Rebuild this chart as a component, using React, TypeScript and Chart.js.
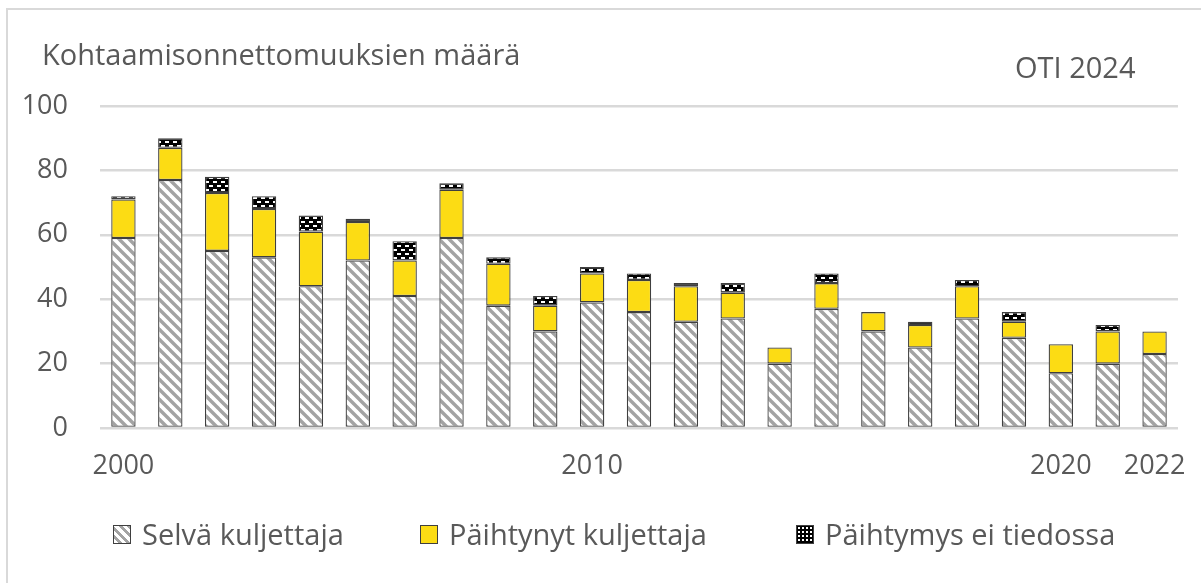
import React, { useEffect, useRef } from 'react';
import { Chart, registerables } from 'chart.js';
Chart.register(...registerables);

const years = ['2000','2001','2002','2003','2004','2005','2006','2007','2008','2009','2010','2011','2012','2013','2014','2015','2016','2017','2018','2019','2020','2021','2022'];
const shownYears = ['2000','2010','2020','2022'];
const selva = [59,77,55,53,44,52,41,59,38,30,39,36,33,34,20,37,30,25,34,28,17,20,23];
const paihtynyt = [12,10,18,15,17,12,11,15,13,8,9,10,11,8,5,8,6,7,10,5,9,10,7];
const eiTiedossa = [1,3,5,4,5,1,6,2,2,3,2,2,1,3,0,3,0,1,2,3,0,2,0];
const seriesNames = ['Selvä kuljettaja', 'Päihtynyt kuljettaja', 'Päihtymys ei tiedossa'];
const yTicks = [0, 20, 40, 60, 80, 100];

const FONT = '"Open Sans", sans-serif';
const TEXT = '#595959';
const YELLOW = '#fcdc14';
const EDGE = '#3f3f3f';

function stripePattern(ctx: CanvasRenderingContext2D) {
  const c = document.createElement('canvas');
  c.width = 10; c.height = 10;
  const g = c.getContext('2d')!;
  g.fillStyle = '#ffffff';
  g.fillRect(0, 0, 10, 10);
  g.strokeStyle = '#a3a3a3';
  g.lineWidth = 3.4;
  for (const off of [-10, 0, 10]) {
    g.beginPath();
    g.moveTo(-2, -2 + off);
    g.lineTo(12, 12 + off);
    g.stroke();
  }
  return ctx.createPattern(c, 'repeat')!;
}

function dotPattern(ctx: CanvasRenderingContext2D) {
  const c = document.createElement('canvas');
  c.width = 8; c.height = 8;
  const g = c.getContext('2d')!;
  g.fillStyle = '#000000';
  g.fillRect(0, 0, 8, 8);
  g.fillStyle = '#ffffff';
  g.fillRect(1, 1, 4, 2);
  g.fillRect(5, 5, 3, 2);
  g.fillRect(0, 5, 1, 2);
  return ctx.createPattern(c, 'repeat')!;
}

export default function App() {
  const ref = useRef<HTMLCanvasElement>(null);
  useEffect(() => {
    const canvas = ref.current!;
    const ctx = canvas.getContext('2d')!;
    const chart = new Chart(canvas, {
      type: 'bar',
      data: {
        labels: years,
        datasets: [
          { label: seriesNames[0], data: selva, backgroundColor: stripePattern(ctx), borderColor: EDGE, borderWidth: 1.3, borderSkipped: false },
          { label: seriesNames[1], data: paihtynyt, backgroundColor: YELLOW, borderColor: EDGE, borderWidth: 1.3, borderSkipped: false },
          { label: seriesNames[2], data: eiTiedossa, backgroundColor: dotPattern(ctx), borderColor: EDGE, borderWidth: 1.3, borderSkipped: false },
        ],
      },
      options: {
        responsive: false,
        animation: false,
        events: [],
        layout: { padding: { left: 0, right: 23, top: 106, bottom: 0 } },
        datasets: { bar: { categoryPercentage: 1, barPercentage: 0.52 } },
        plugins: { legend: { display: false }, tooltip: { enabled: false }, title: { display: false } },
        scales: {
          x: {
            stacked: true,
            grid: { display: false },
            border: { display: false },
            ticks: {
              autoSkip: false,
              maxRotation: 0,
              padding: 14,
              color: TEXT,
              font: { family: FONT, size: 27 },
              callback: (_v: any, i: number) => (shownYears.includes(years[i]) ? years[i] : ''),
            },
            afterFit: (s: any) => { s.height = 155; },
          },
          y: {
            stacked: true,
            min: yTicks[0],
            max: yTicks[yTicks.length - 1],
            afterBuildTicks: (s: any) => { s.ticks = yTicks.map((v) => ({ value: v })); },
            grid: { color: '#d9d9d9', lineWidth: 2.5, drawTicks: false },
            border: { display: false },
            ticks: { padding: 32, color: TEXT, font: { family: FONT, size: 27 } },
            afterFit: (s: any) => { s.width = 100; },
          },
        },
      },
    } as any);
    return () => chart.destroy();
  }, []);

  const legendItem = (left: number, name: string, swatch: React.CSSProperties) => (
    <div style={{ position: 'absolute', left, top: 517, display: 'flex', alignItems: 'center', height: 34 }}>
      <div style={{ width: 18, height: 19, boxSizing: 'border-box', border: `1.5px solid ${EDGE}`, marginRight: 11, ...swatch }} />
      <span style={{ fontFamily: FONT, fontSize: 29, color: TEXT, whiteSpace: 'nowrap', lineHeight: '34px' }}>{name}</span>
    </div>
  );

  return (
    <div style={{ position: 'fixed', left: 0, top: 0, width: 1201, height: 583, overflow: 'hidden', background: '#fff' }}>
      <div style={{ position: 'absolute', left: 6, top: 8, width: 1400, height: 800, border: '2px solid #d9d9d9' }} />
      <canvas ref={ref} width={1201} height={583} style={{ position: 'absolute', left: 0, top: 0, width: 1201, height: 583 }} />
      <div style={{ position: 'absolute', left: 42, top: 37, fontFamily: FONT, fontSize: 29, color: TEXT, lineHeight: '34px', whiteSpace: 'nowrap' }}>Kohtaamisonnettomuuksien määrä</div>
      <div style={{ position: 'absolute', left: 1015, top: 50, fontFamily: FONT, fontSize: 29, color: TEXT, lineHeight: '34px', whiteSpace: 'nowrap' }}>OTI 2024</div>
      {legendItem(113, seriesNames[0], { background: 'repeating-linear-gradient(45deg, #fff 0px, #fff 3px, #a3a3a3 3px, #a3a3a3 6px)' })}
      {legendItem(420, seriesNames[1], { background: YELLOW })}
      {legendItem(796, seriesNames[2], { backgroundColor: '#000', backgroundImage: 'radial-gradient(#fff 35%, transparent 40%)', backgroundSize: '4px 4px' })}
    </div>
  );
}
